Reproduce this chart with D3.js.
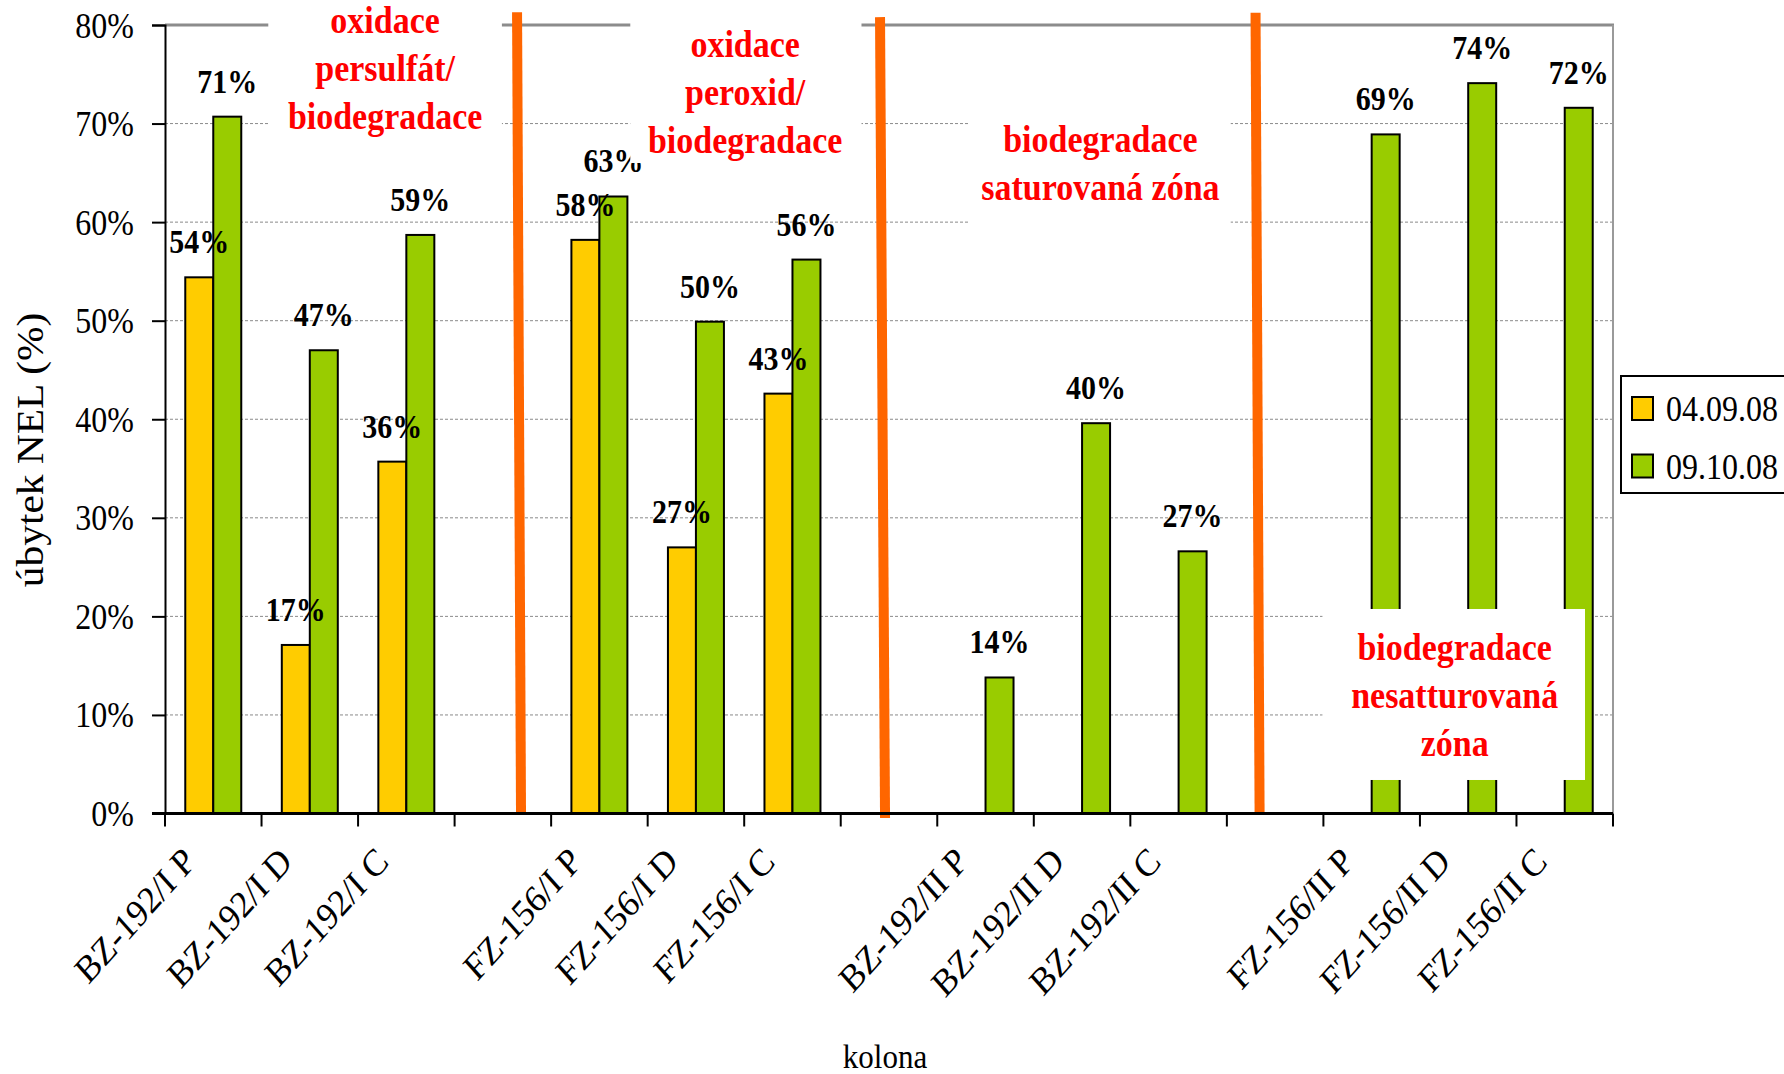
<!DOCTYPE html>
<html>
<head>
<meta charset="utf-8">
<script src="https://cdn.jsdelivr.net/npm/d3@7"></script>
<style>
  html, body { margin: 0; padding: 0; background: #fff; }
  svg { display: block; }
  text { font-family: "Liberation Serif", "Times New Roman", serif; }
</style>
</head>
<body>
<svg id="chart" width="1784" height="1074"></svg>
<script>
// Columns along the x axis; empty strings are the spacer slots between the blocks
const categories = [
  "BZ-192/I P", "BZ-192/I D", "BZ-192/I C", "",
  "FZ-156/I P", "FZ-156/I D", "FZ-156/I C", "",
  "BZ-192/II P", "BZ-192/II D", "BZ-192/II C", "",
  "FZ-156/II P", "FZ-156/II D", "FZ-156/II C"
];
const seriesNames = ["04.09.08", "09.10.08"];
// úbytek NEL (%) per column
const values0409 = [54.4, 17.1, 35.7, null, 58.2, 27.0, 42.6, null, null, null, null, null, null, null, null];
const values0910 = [70.7, 47.0, 58.7, null, 62.6, 49.9, 56.2, null, 13.8, 39.6, 26.6, null, 68.9, 74.1, 71.6];
const yTicks = [0, 10, 20, 30, 40, 50, 60, 70, 80];

// Zone captions: box extent in column units / percent, caption centre and first baseline
const zoneLines = [["oxidace", "persulfát/", "biodegradace"],
                   ["oxidace", "peroxid/", "biodegradace"],
                   ["biodegradace", "saturovaná zóna"],
                   ["biodegradace", "nesatturovaná", "zóna"]];
const zoneBoxX = [[1.07, 3.49], [4.82, 7.215], [8.32, 11.04], [11.99, 14.71]];
const zoneBoxY = [[83, 66], [83, 66], [78.5, 56], [20.75, 3.4]];
const zoneTextX = [2.28, 6.01, 9.69, 13.36];
const zoneTextY = [79.2, 76.75, 67.1, 15.57];

// Orange separators between the blocks: [column units, percent] at top and bottom
const sepTop = [[3.647, 81.3], [7.407, 80.8], [11.297, 81.25]];
const sepBottom = [[3.688, 0], [7.459, -0.45], [11.339, 0]];

const colors = ["#FFCC00", "#99CC00"];
const K = 1.12; // vertical stretch of the lettering

const svg = d3.select("#chart");
const W = 1784, H = 1074;
const plot = { left: 165, right: 1613, top: 25, bottom: 813.5 };

const x = d3.scaleBand()
  .domain(d3.range(categories.length))
  .range([plot.left, plot.right])
  .paddingInner(0).paddingOuter(0);
const xSub = d3.scaleBand()
  .domain(seriesNames)
  .range([0, x.bandwidth()])
  .paddingInner(0).paddingOuter(0.724);
const y = d3.scaleLinear().domain([0, 80]).range([plot.bottom, plot.top]);
const xu = u => plot.left + u * x.step();

const stretched = (sel, tx, ty, rot) =>
  sel.attr("transform", `translate(${tx},${ty}) scale(1,${K})` + (rot ? ` rotate(${rot})` : ""));

svg.append("rect").attr("width", W).attr("height", H).attr("fill", "#fff");

// gridlines
svg.append("g").selectAll("line")
  .data(yTicks.filter(d => d > 0 && d < 80))
  .join("line")
  .attr("x1", plot.left).attr("x2", plot.right)
  .attr("y1", d => y(d)).attr("y2", d => y(d))
  .attr("stroke", "#8a8a8a").attr("stroke-width", 1).attr("stroke-dasharray", "3,2");

// plot frame: top and right in grey
svg.append("line")
  .attr("x1", plot.left).attr("x2", plot.right + 1)
  .attr("y1", y(80)).attr("y2", y(80))
  .attr("stroke", "#8c8c8c").attr("stroke-width", 3);
svg.append("line")
  .attr("x1", plot.right).attr("x2", plot.right)
  .attr("y1", y(80)).attr("y2", plot.bottom)
  .attr("stroke", "#9a9a9a").attr("stroke-width", 2);

// bars
const seriesData = [values0409, values0910];
seriesData.forEach((vals, si) => {
  svg.append("g").selectAll("rect")
    .data(vals.map((v, i) => ({ v, i })).filter(d => d.v != null))
    .join("rect")
    .attr("x", d => x(d.i) + xSub(seriesNames[si]))
    .attr("width", xSub.bandwidth())
    .attr("y", d => y(d.v))
    .attr("height", d => y(0) - y(d.v))
    .attr("fill", colors[si])
    .attr("stroke", "#000").attr("stroke-width", 2);
});

// orange separators
svg.append("g").selectAll("line")
  .data(d3.range(sepTop.length))
  .join("line")
  .attr("x1", i => xu(sepTop[i][0])).attr("y1", i => y(sepTop[i][1]))
  .attr("x2", i => xu(sepBottom[i][0])).attr("y2", i => y(sepBottom[i][1]))
  .attr("stroke", "#FF6600").attr("stroke-width", 10);

// y axis
const yAxis = svg.append("g")
  .attr("transform", `translate(${plot.left},0)`)
  .call(d3.axisLeft(y).tickValues(yTicks).tickSize(13).tickFormat(d => d + "%"));
yAxis.select(".domain").attr("stroke", "#000").attr("stroke-width", 2);
yAxis.selectAll(".tick line").attr("stroke", "#000").attr("stroke-width", 2);
yAxis.selectAll(".tick text")
  .attr("x", null).attr("dy", null)
  .attr("fill", "#000")
  .style("font-size", "32px")
  .attr("text-anchor", "end")
  .attr("transform", `translate(-31,12) scale(1,${K})`);

// x axis line and boundary ticks
const xAxis = svg.append("g");
xAxis.append("line")
  .attr("x1", plot.left - 13).attr("x2", plot.right)
  .attr("y1", y(0)).attr("y2", y(0))
  .attr("stroke", "#000").attr("stroke-width", 3);
const bounds = x.domain().map(d => x(d)).concat([x.range()[1]]);
xAxis.selectAll("line.tk")
  .data(bounds)
  .join("line").attr("class", "tk")
  .attr("x1", d => d).attr("x2", d => d)
  .attr("y1", y(0)).attr("y2", y(0) + 13)
  .attr("stroke", "#000").attr("stroke-width", 2);

// rotated category labels
xAxis.selectAll("text")
  .data(categories.map((c, i) => ({ c, i })).filter(d => d.c))
  .join("text")
  .text(d => d.c)
  .attr("text-anchor", "end")
  .style("font-size", "34px")
  .each(function (d) {
    stretched(d3.select(this), x(d.i) + x.bandwidth() / 2 - 16, y(0) + 50, -45);
  });

// value labels
seriesData.forEach((vals, si) => {
  svg.append("g").selectAll("text")
    .data(vals.map((v, i) => ({ v, i })).filter(d => d.v != null))
    .join("text")
    .text(d => Math.round(d.v) + "%")
    .attr("text-anchor", "middle")
    .style("font-size", "30px").style("font-weight", "bold")
    .each(function (d) {
      stretched(d3.select(this),
        x(d.i) + xSub(seriesNames[si]) + xSub.bandwidth() / 2,
        y(d.v) - 24);
    });
});

// zone caption boxes and text
zoneLines.forEach((lines, zi) => {
  svg.append("rect")
    .attr("x", xu(zoneBoxX[zi][0]))
    .attr("width", xu(zoneBoxX[zi][1]) - xu(zoneBoxX[zi][0]))
    .attr("y", y(zoneBoxY[zi][0]))
    .attr("height", y(zoneBoxY[zi][1]) - y(zoneBoxY[zi][0]))
    .attr("fill", "#fff");
  svg.append("g").selectAll("text")
    .data(lines)
    .join("text")
    .text(d => d)
    .attr("text-anchor", "middle")
    .attr("fill", "#FF0000")
    .style("font-size", "34px").style("font-weight", "bold")
    .each(function (d, li) {
      stretched(d3.select(this), xu(zoneTextX[zi]), y(zoneTextY[zi]) + li * 48);
    });
});

// axis titles
svg.append("text")
  .text("úbytek NEL (%)")
  .attr("text-anchor", "middle")
  .style("font-size", "37px")
  .call(s => stretched(s, 43, 450, -90));
svg.append("text")
  .text("kolona")
  .attr("text-anchor", "middle")
  .style("font-size", "31px")
  .call(s => stretched(s, 885, 1068));

// legend
const lg = svg.append("g");
lg.append("rect")
  .attr("x", 1621).attr("y", 376).attr("width", 200).attr("height", 117)
  .attr("fill", "#fff").attr("stroke", "#000").attr("stroke-width", 2);
seriesNames.forEach((name, si) => {
  const top = 397 + si * 57.5;
  lg.append("rect")
    .attr("x", 1632).attr("y", top).attr("width", 21).attr("height", 23)
    .attr("fill", colors[si]).attr("stroke", "#000").attr("stroke-width", 2);
  lg.append("text")
    .text(name)
    .style("font-size", "32px")
    .call(s => stretched(s, 1666, top + 24));
});
</script>
</body>
</html>
